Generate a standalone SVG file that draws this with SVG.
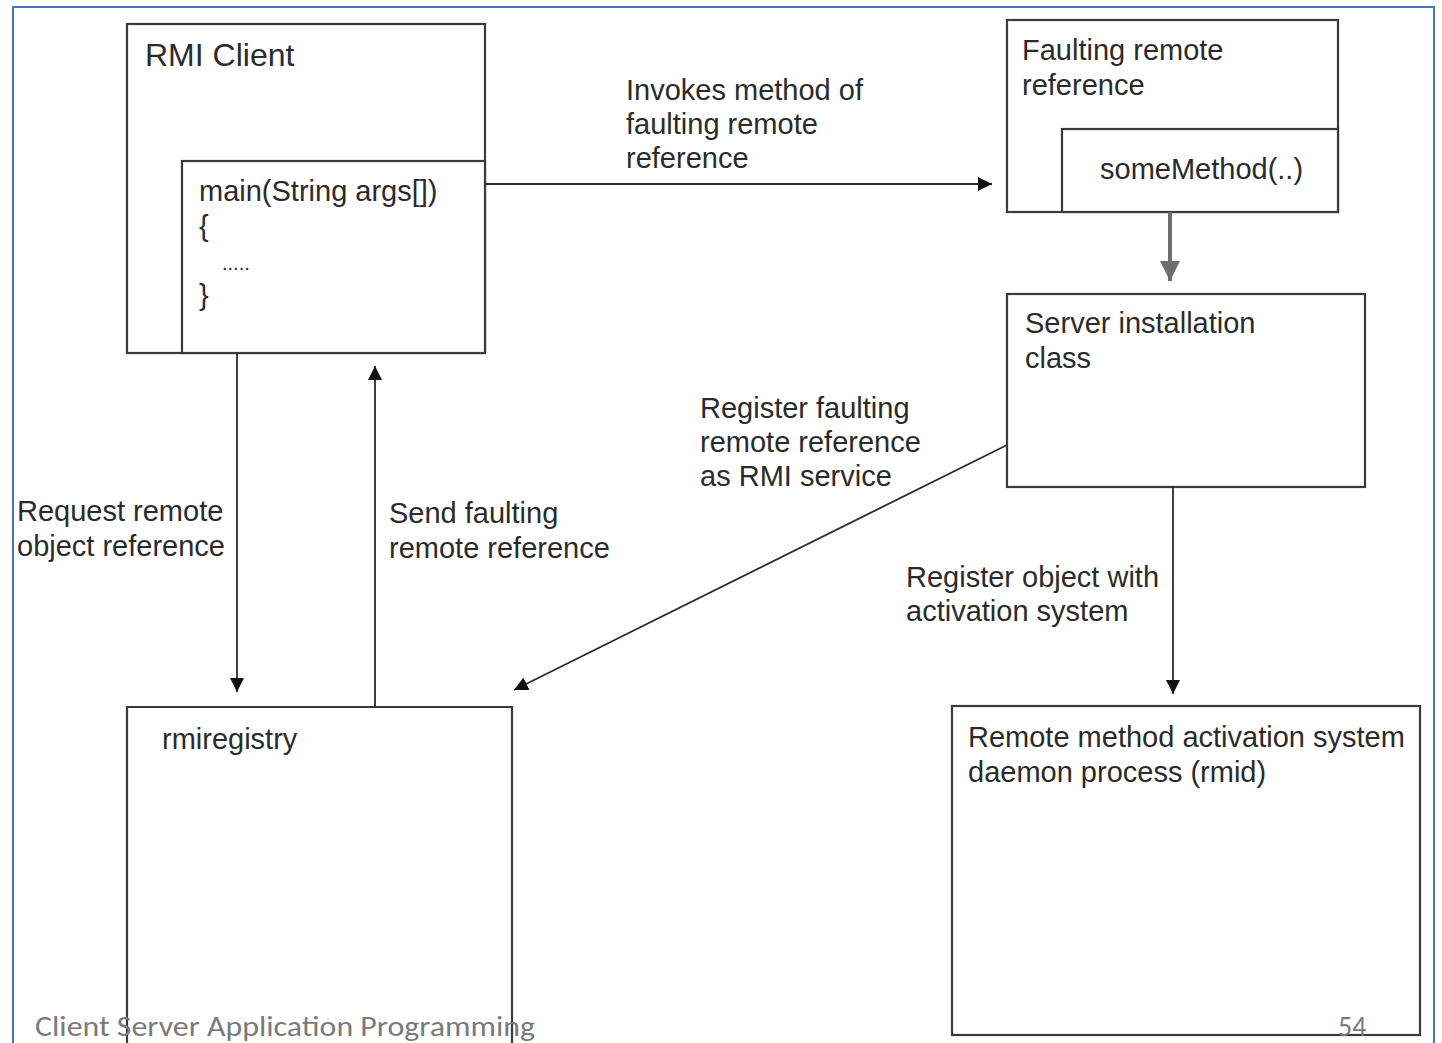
<svg xmlns="http://www.w3.org/2000/svg" width="1442" height="1043" viewBox="0 0 1442 1043">
<defs>
<style>
.box{fill:#fff;stroke:#3a3a3a;stroke-width:2.2}
.t{font-family:"Liberation Sans",Arial,sans-serif;font-size:29px;fill:#2b2b2b}
.c{stroke:#2b2b2b;stroke-width:1.8;fill:none}
.foot{font-family:"Carlito","Liberation Sans",sans-serif;font-size:28px;fill:#7a7a7a}
</style>
<marker id="ah" viewBox="0 0 10 10" refX="10" refY="5" markerWidth="14" markerHeight="14" markerUnits="userSpaceOnUse" orient="auto">
<path d="M0,0 L10,5 L0,10 z" fill="#111"/>
</marker>
<marker id="ahg" viewBox="0 0 10 10" refX="10" refY="5" markerWidth="5" markerHeight="5" orient="auto">
<path d="M0,0 L10,5 L0,10 z" fill="#6e6e6e"/>
</marker>
</defs>
<rect x="0" y="0" width="1442" height="1043" fill="#fff"/>
<rect x="13" y="7" width="1421" height="1050" fill="none" stroke="#4472C4" stroke-width="2"/>

<g id="rmi-client">
<rect class="box" x="127" y="24" width="358" height="329"/>
<rect class="box" x="182" y="161" width="303" height="192"/>
<text class="t" x="145" y="66" style="font-size:32px">RMI Client</text>
<text class="t" x="199" y="201">main(String args[])</text>
<text class="t" x="199" y="236">{</text>
<text class="t" x="222" y="270" style="font-size:20px">.....</text>
<text class="t" x="199" y="305">}</text>
</g>

<g id="faulting-ref">
<rect class="box" x="1007" y="20" width="331" height="192"/>
<rect class="box" x="1062" y="129" width="276" height="83"/>
<text class="t" x="1022" y="60">Faulting remote</text>
<text class="t" x="1022" y="95">reference</text>
<text class="t" x="1100" y="179">someMethod(..)</text>
</g>

<g id="server-install">
<rect class="box" x="1007" y="294" width="358" height="193"/>
<text class="t" x="1025" y="333">Server installation</text>
<text class="t" x="1025" y="368">class</text>
</g>

<g id="rmiregistry">
<path class="box" d="M127,1045 L127,707 L512,707 L512,1045"/>
<text class="t" x="162" y="749">rmiregistry</text>
</g>

<g id="rmid">
<rect class="box" x="952" y="706" width="468" height="329"/>
<text class="t" x="968" y="747">Remote method activation system</text>
<text class="t" x="968" y="782">daemon process (rmid)</text>
</g>

<g id="connectors">
<line class="c" x1="485" y1="184" x2="992" y2="184" marker-end="url(#ah)"/>
<line x1="1170" y1="212" x2="1170" y2="281" stroke="#6e6e6e" stroke-width="4" marker-end="url(#ahg)"/>
<line class="c" x1="237" y1="353" x2="237" y2="692" marker-end="url(#ah)"/>
<line class="c" x1="375" y1="707" x2="375" y2="366" marker-end="url(#ah)"/>
<line class="c" x1="1007" y1="445" x2="514" y2="690" marker-end="url(#ah)"/>
<line class="c" x1="1173" y1="487" x2="1173" y2="694" marker-end="url(#ah)"/>
</g>

<g id="labels">
<text class="t" x="626" y="100">Invokes method of</text>
<text class="t" x="626" y="134">faulting remote</text>
<text class="t" x="626" y="168">reference</text>
<text class="t" x="700" y="418">Register faulting</text>
<text class="t" x="700" y="452">remote reference</text>
<text class="t" x="700" y="486">as RMI service</text>
<text class="t" x="17" y="521">Request remote</text>
<text class="t" x="17" y="556">object reference</text>
<text class="t" x="389" y="523">Send faulting</text>
<text class="t" x="389" y="558">remote reference</text>
<text class="t" x="906" y="587">Register object with</text>
<text class="t" x="906" y="621">activation system</text>
</g>

<g id="footer">
<text class="foot" x="35" y="1036" textLength="500" lengthAdjust="spacingAndGlyphs">Client Server Application Programming</text>
<text class="foot" x="1338" y="1036">54</text>
</g>
</svg>
